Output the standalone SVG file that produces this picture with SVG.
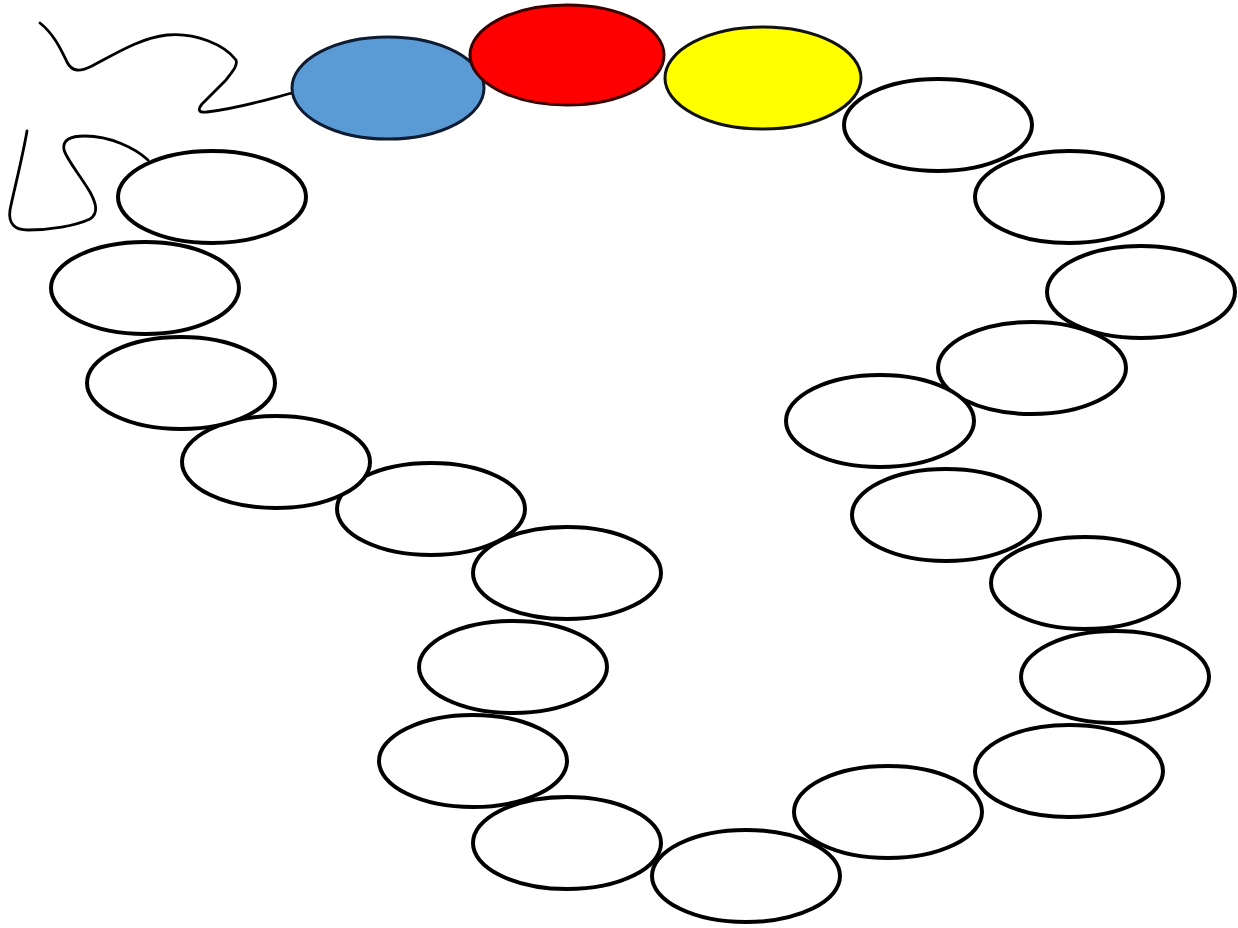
<svg xmlns="http://www.w3.org/2000/svg" width="1238" height="928" viewBox="0 0 1238 928">
<style>
.b{fill:#fff;stroke:#000;stroke-width:4}
.s{fill:none;stroke:#000;stroke-width:2.8;stroke-linecap:round;stroke-linejoin:round}
</style>
<rect width="1238" height="928" fill="#fff"/>
<g id="connectors">
<path class="s" d="M40,23 C55,35 62,52 67,62 C72,72 80,72 92,66 C115,54 140,38 167,35 C195,32 225,45 236,60 C238,66 232,72 226,80 L202,104 C197,110 199,113 207,112 C240,108 265,100 292,93"/>
<path class="s" d="M27,131 C22,160 14,190 10,210 C8,224 15,230 28,230 C50,230 75,226 90,219 C99,213 96,203 90,192 C80,175 67,160 64,150 C62,140 70,136 85,136 C110,136 135,148 148,160"/>
</g>
<g id="bead1"><ellipse cx="388" cy="88" rx="96" ry="51" fill="#5B9BD5" stroke="#0d1b33" stroke-width="3"/></g>
<g id="bead2"><ellipse cx="567" cy="55" rx="97" ry="50" fill="#FF0000" stroke="#3a0000" stroke-width="3"/></g>
<g id="bead3"><ellipse cx="763" cy="78" rx="98" ry="51" fill="#FFFF00" stroke="#111" stroke-width="3"/></g>
<g id="bead4"><ellipse class="b" cx="938" cy="125" rx="94" ry="46"/></g>
<g id="bead5"><ellipse class="b" cx="1069" cy="197" rx="94" ry="46"/></g>
<g id="bead6"><ellipse class="b" cx="1141" cy="292" rx="94" ry="46"/></g>
<g id="bead7"><ellipse class="b" cx="1032" cy="368" rx="94" ry="46"/></g>
<g id="bead8"><ellipse class="b" cx="880" cy="421" rx="94" ry="46"/></g>
<g id="bead9"><ellipse class="b" cx="946" cy="515" rx="94" ry="46"/></g>
<g id="bead10"><ellipse class="b" cx="1085" cy="583" rx="94" ry="46"/></g>
<g id="bead11"><ellipse class="b" cx="1115" cy="677" rx="94" ry="46"/></g>
<g id="bead12"><ellipse class="b" cx="1069" cy="771" rx="94" ry="46"/></g>
<g id="bead13"><ellipse class="b" cx="888" cy="812" rx="94" ry="46"/></g>
<g id="bead14"><ellipse class="b" cx="746" cy="876" rx="94" ry="46"/></g>
<g id="bead15"><ellipse class="b" cx="567" cy="843" rx="94" ry="46"/></g>
<g id="bead16"><ellipse class="b" cx="473" cy="761" rx="94" ry="46"/></g>
<g id="bead17"><ellipse class="b" cx="513" cy="667" rx="94" ry="46"/></g>
<g id="bead18"><ellipse class="b" cx="567" cy="573" rx="94" ry="46"/></g>
<g id="bead19"><ellipse class="b" cx="431" cy="509" rx="94" ry="46"/></g>
<g id="bead20"><ellipse class="b" cx="276" cy="462" rx="94" ry="46"/></g>
<g id="bead21"><ellipse class="b" cx="181" cy="383" rx="94" ry="46"/></g>
<g id="bead22"><ellipse class="b" cx="145" cy="288" rx="94" ry="46"/></g>
<g id="bead23"><ellipse class="b" cx="212" cy="197" rx="94" ry="46"/></g>
</svg>
